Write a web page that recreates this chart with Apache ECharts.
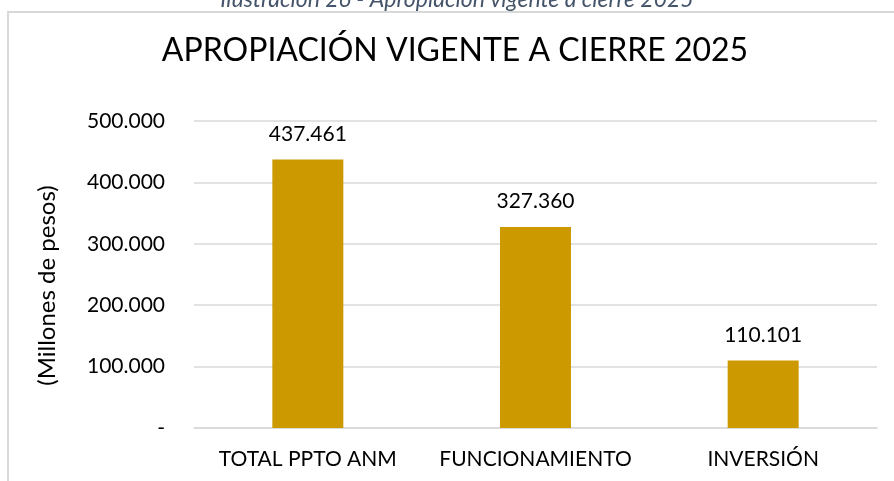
<!DOCTYPE html>
<html>
<head>
<meta charset="utf-8">
<script src="https://cdn.jsdelivr.net/npm/echarts@6/dist/echarts.min.js"></script>
<style>
html,body{margin:0;padding:0;background:#fff;}
#chart{width:894px;height:481px;}
</style>
</head>
<body>
<div id="chart"></div>
<script>
const categories = ['TOTAL PPTO ANM', 'FUNCIONAMIENTO', 'INVERSIÓN'];
const values = [437461, 327360, 110101];
const yTicks = [0, 100000, 200000, 300000, 400000, 500000];
const titleText = 'APROPIACIÓN VIGENTE A CIERRE 2025';
const captionText = 'Ilustración 26 - Apropiación vigente a cierre 2025';
const yAxisName = '(Millones de pesos)';

function fmt(v) {
  if (v === 0) return '-';
  return String(Math.round(v)).replace(/\B(?=(\d{3})+(?!\d))/g, '.');
}

const FONT = 'Lato';
const chart = echarts.init(document.getElementById('chart'), null, {renderer: 'canvas'});
chart.setOption({
  animation: false,
  backgroundColor: '#ffffff',
  graphic: [
    {
      type: 'rect',
      shape: {x: 8, y: 12, width: 1000, height: 600},
      style: {fill: 'none', stroke: '#d9d9d9', lineWidth: 2},
      silent: true
    },
    {
      type: 'text',
      x: 457,
      y: 11,
      style: {
        text: captionText,
        fontFamily: FONT,
        fontStyle: 'italic',
        fontSize: 23,
        fill: '#44546A',
        align: 'center',
        verticalAlign: 'bottom'
      }
    },
    {
      type: 'text',
      x: 455,
      y: 35,
      style: {
        text: titleText,
        fontFamily: FONT,
        fontSize: 32,
        fill: '#000000',
        align: 'center',
        verticalAlign: 'top'
      }
    }
  ],
  grid: {left: 194, right: 17, top: 121, bottom: 53},
  xAxis: {
    type: 'category',
    data: categories,
    axisLine: {show: true, lineStyle: {color: '#d9d9d9', width: 1.5}},
    axisTick: {show: false},
    axisLabel: {fontFamily: FONT, fontSize: 21, color: '#000000', margin: 21, interval: 0}
  },
  yAxis: {
    type: 'value',
    min: yTicks[0],
    max: yTicks[yTicks.length - 1],
    interval: 100000,
    name: yAxisName,
    nameLocation: 'middle',
    nameGap: 135,
    nameRotate: 90,
    nameTextStyle: {fontFamily: FONT, fontSize: 24, color: '#000000', padding: [0, 22, 0, 0]},
    axisLine: {show: false},
    axisTick: {show: false},
    axisLabel: {fontFamily: FONT, fontSize: 21, color: '#000000', margin: 29, formatter: fmt},
    splitLine: {lineStyle: {color: '#d9d9d9', width: 1.5}}
  },
  series: [{
    type: 'bar',
    data: values,
    barWidth: 71,
    itemStyle: {color: '#CC9900'},
    label: {
      show: true,
      position: 'top',
      distance: 15,
      fontFamily: FONT,
      fontSize: 21,
      color: '#000000',
      formatter: p => fmt(p.value)
    }
  }]
});
</script>
</body>
</html>
